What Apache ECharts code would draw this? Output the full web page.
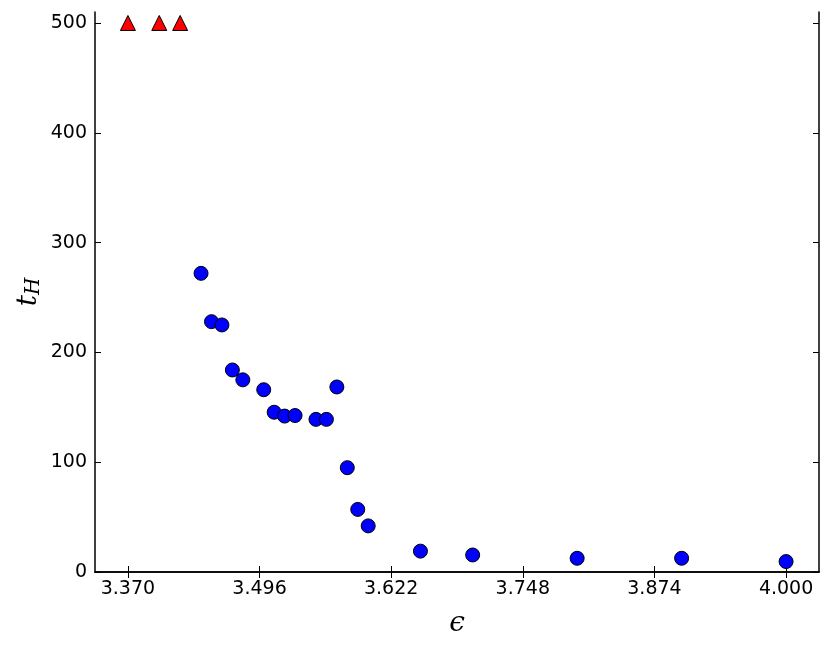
<!DOCTYPE html>
<html>
<head>
<meta charset="utf-8">
<script src="https://cdn.jsdelivr.net/npm/echarts@6/dist/echarts.min.js"></script>
<style>
  html, body { margin: 0; padding: 0; background: #fff; }
  #chart { width: 831px; height: 649px; }
</style>
</head>
<body>
<div id="chart"></div>
<script>
// tick labels
const xTicks = [3.370, 3.496, 3.622, 3.748, 3.874, 4.000]
const yTicks = [0, 100, 200, 300, 400, 500]

// t_H hit the cap (500) for these epsilons
const capEps = [3.37, 3.40, 3.42]
const capT = [500, 500, 500]

// measured t_H
const eps = [3.44, 3.45, 3.46, 3.47, 3.48, 3.50, 3.51, 3.52, 3.53, 3.55,
  3.56, 3.57, 3.58, 3.59, 3.60, 3.65, 3.70, 3.80, 3.90, 4.00]
const tH = [272, 228, 225, 184, 175, 166, 145.5, 142, 142.5, 139,
  139, 168.5, 95, 57, 42, 19, 15.5, 12.5, 12.5, 9.5]

const chart = echarts.init(document.getElementById('chart'))

const tickFont = {
  fontFamily: 'DejaVu Sans',
  fontSize: 19,
  color: '#000'
}

const option = {
  animation: false,
  grid: { left: 95, right: 12, top: 12, bottom: 77 },
  xAxis: [
    {
      type: 'value',
      min: 3.3385,
      max: 4.0315,
      name: 'ϵ',
      nameLocation: 'middle',
      nameGap: 38,
      nameTextStyle: { fontFamily: 'DejaVu Serif', fontStyle: 'italic', fontSize: 28, color: '#000' },
      axisLine: { onZero: false, lineStyle: { color: '#000', width: 1.5 } },
      axisTick: { inside: true, length: 6, customValues: xTicks, lineStyle: { color: '#000' } },
      axisLabel: Object.assign({
        margin: 8,
        customValues: xTicks,
        formatter: v => v.toFixed(3)
      }, tickFont),
      splitLine: { show: false }
    },
    {
      type: 'value',
      position: 'top',
      min: 3.3385,
      max: 4.0315,
      axisLine: { show: true, lineStyle: { color: '#000', width: 1.5 } },
      axisTick: { inside: true, length: 6, customValues: xTicks, lineStyle: { color: '#000' } },
      axisLabel: { show: false },
      splitLine: { show: false }
    }
  ],
  yAxis: [
    {
      type: 'value',
      min: 0,
      max: 510,
      name: '{t|t}{s|H}',
      nameLocation: 'middle',
      nameGap: 51,
      nameMoveOverlap: false,
      nameTextStyle: {
        rich: {
          t: { fontFamily: 'DejaVu Serif', fontStyle: 'italic', fontSize: 28, color: '#000' },
          s: { fontFamily: 'DejaVu Serif', fontStyle: 'italic', fontSize: 20, color: '#000', padding: [10, 0, 0, 0] }
        }
      },
      axisLine: { onZero: false, lineStyle: { color: '#000', width: 1.5 } },
      axisTick: { inside: true, length: 6, customValues: yTicks, lineStyle: { color: '#000' } },
      axisLabel: Object.assign({ margin: 8, customValues: yTicks }, tickFont),
      splitLine: { show: false }
    },
    {
      type: 'value',
      position: 'right',
      min: 0,
      max: 510,
      axisLine: { show: true, lineStyle: { color: '#000', width: 1.5 } },
      axisTick: { inside: true, length: 6, customValues: yTicks, lineStyle: { color: '#000' } },
      axisLabel: { show: false },
      splitLine: { show: false }
    }
  ],
  series: [
    {
      type: 'scatter',
      symbol: 'triangle',
      symbolSize: 15,
      data: capEps.map((e, i) => [e, capT[i]]),
      itemStyle: { color: '#ff0000', borderColor: '#000', borderWidth: 1, opacity: 1 }
    },
    {
      type: 'scatter',
      symbol: 'circle',
      symbolSize: 14,
      data: eps.map((e, i) => [e, tH[i]]),
      itemStyle: { color: '#0000ff', borderColor: '#000', borderWidth: 1, opacity: 1 }
    }
  ]
}

chart.setOption(option)
</script>
</body>
</html>
